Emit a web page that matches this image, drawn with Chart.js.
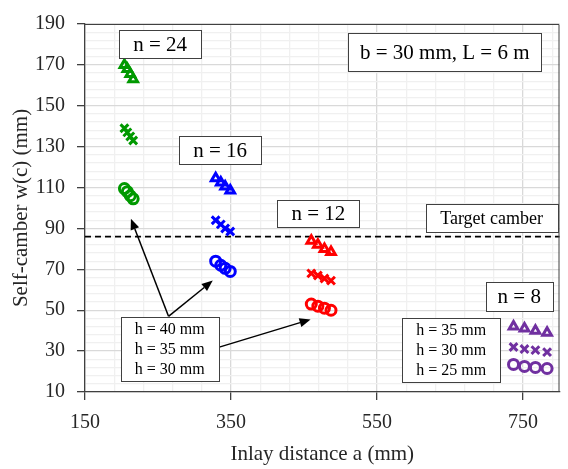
<!DOCTYPE html>
<html>
<head>
<meta charset="utf-8">
<script src="https://cdn.jsdelivr.net/npm/chart.js@4.4.1/dist/chart.umd.min.js"></script>
<style>
  body { margin: 0; background: #fff; }
  canvas { display: block; }
</style>
</head>
<body>
<canvas id="chart" width="568" height="469"></canvas>
<script>
// Inlay distance a (mm) for each number of inlays n
const inlay24 = [204, 208, 212, 216];
const inlay16 = [329, 336, 342, 349];
const inlay12 = [460, 469, 478, 487];
const inlay8 = [737, 752, 767, 783];

// Self-camber w(c) (mm), one array per lamella height h
const tri24 = [170, 168, 165.5, 163];
const cross24 = [139, 137, 135, 133];
const circ24 = [109.5, 108, 106, 104.5];

const tri16 = [114.5, 112.5, 110.5, 108.5];
const cross16 = [94, 92, 90, 88.5];
const circ16 = [74, 72, 70.5, 69];

const tri12 = [84, 82, 80, 78.5];
const cross12 = [68, 67, 65.5, 64.5];
const circ12 = [53, 52, 51, 50];

const tri8 = [42, 41, 40, 39];
const cross8 = [32, 31, 30.5, 29.5];
const circ8 = [23.5, 22.5, 22, 21.5];

const targetCamber = 86;

// axis ticks
const xLabels = [150, 350, 550, 750];
const yLabels = [10, 30, 50, 70, 90, 110, 130, 150, 170, 190];
const xGrid = [];
for (let v = 150; v <= 790; v += 40) xGrid.push(v);
const yGrid = [];
for (let v = 10; v <= 190; v += 4) yGrid.push(v);

const serif = "'Liberation Serif', 'DejaVu Serif', serif";
const green = '#009900', blue = '#0000ff', red = '#ff0000', purple = '#7030a0';

function series(xs, ys, color, style) {
    return {
        data: xs.map((x, i) => ({ x: x, y: ys[i] })),
        showLine: false,
        pointStyle: style,
        pointRadius: style === 'crossRot' ? 5.5 : 5,
        borderColor: color,
        backgroundColor: 'rgba(255,255,255,0)',
        borderWidth: 3
    };
}

const datasets = [
    series(inlay24, tri24, green, 'triangle'),
    series(inlay24, cross24, green, 'crossRot'),
    series(inlay24, circ24, green, 'circle'),
    series(inlay16, tri16, blue, 'triangle'),
    series(inlay16, cross16, blue, 'crossRot'),
    series(inlay16, circ16, blue, 'circle'),
    series(inlay12, tri12, red, 'triangle'),
    series(inlay12, cross12, red, 'crossRot'),
    series(inlay12, circ12, red, 'circle'),
    series(inlay8, tri8, purple, 'triangle'),
    series(inlay8, cross8, purple, 'crossRot'),
    series(inlay8, circ8, purple, 'circle')
];

// text boxes: centre in axis units, size in px
const boxes = [
    { lines: ['n = 24'], x: 253, y: 180.1, w: 82, h: 28, size: 21 },
    { lines: ['n = 16'], x: 335, y: 128.3, w: 82, h: 28, size: 21 },
    { lines: ['n = 12'], x: 469.7, y: 97.1, w: 82, h: 27, size: 21 },
    { lines: ['n = 8'], x: 744.9, y: 56.8, w: 67, h: 29, size: 21 },
    { lines: ['b = 30 mm, L = 6 m'], x: 642.8, y: 176.1, w: 193, h: 38, size: 21 },
    { lines: ['Target camber'], x: 707, y: 95.2, w: 132, h: 28, size: 18 },
    { lines: ['h = 40 mm', 'h = 35 mm', 'h = 30 mm'], x: 266, y: 30.9, w: 98, h: 64, size: 16 },
    { lines: ['h = 35 mm', 'h = 30 mm', 'h = 25 mm'], x: 651.7, y: 30.6, w: 98, h: 64, size: 16 }
];

// arrows from the left text box to the lowest group of each n
const arrows = [
    { from: [264.4, 47.0], to: [212.9, 94.8] },
    { from: [264.4, 47.0], to: [325, 64.5] },
    { from: [331.7, 31.7], to: [459, 45.5] }
];

const notes = {
    id: 'notes',
    beforeDatasetsDraw(chart) {
        const { ctx, chartArea, scales } = chart;
        const y = scales.y.getPixelForValue(targetCamber);
        ctx.save();
        ctx.strokeStyle = '#000';
        ctx.lineWidth = 1.6;
        ctx.setLineDash([6, 4]);
        ctx.beginPath();
        ctx.moveTo(chartArea.left, y);
        ctx.lineTo(chartArea.right, y);
        ctx.stroke();
        ctx.restore();
    },
    afterDatasetsDraw(chart) {
        const { ctx, chartArea, scales } = chart;
        ctx.save();

        // frame top and right
        ctx.strokeStyle = '#404040';
        ctx.lineWidth = 1;
        ctx.beginPath();
        ctx.moveTo(chartArea.left, chartArea.top + 0.5);
        ctx.lineTo(chartArea.right - 0.5, chartArea.top + 0.5);
        ctx.lineTo(chartArea.right - 0.5, chartArea.bottom);
        ctx.stroke();

        // arrows
        arrows.forEach(a => {
            const x1 = scales.x.getPixelForValue(a.from[0]);
            const y1 = scales.y.getPixelForValue(a.from[1]);
            const x2 = scales.x.getPixelForValue(a.to[0]);
            const y2 = scales.y.getPixelForValue(a.to[1]);
            const ang = Math.atan2(y2 - y1, x2 - x1);
            const len = 11, half = 4.5;
            const bx = x2 - len * Math.cos(ang), by = y2 - len * Math.sin(ang);
            ctx.strokeStyle = '#000';
            ctx.fillStyle = '#000';
            ctx.lineWidth = 1.5;
            ctx.beginPath();
            ctx.moveTo(x1, y1);
            ctx.lineTo(bx, by);
            ctx.stroke();
            ctx.beginPath();
            ctx.moveTo(x2, y2);
            ctx.lineTo(bx + half * Math.sin(ang), by - half * Math.cos(ang));
            ctx.lineTo(bx - half * Math.sin(ang), by + half * Math.cos(ang));
            ctx.closePath();
            ctx.fill();
        });

        // text boxes
        boxes.forEach(b => {
            const cx = scales.x.getPixelForValue(b.x);
            const cy = scales.y.getPixelForValue(b.y);
            const left = Math.round(cx - b.w / 2) + 0.5;
            const top = Math.round(cy - b.h / 2) + 0.5;
            ctx.fillStyle = '#fff';
            ctx.fillRect(left, top, b.w, b.h);
            ctx.strokeStyle = '#404040';
            ctx.lineWidth = 1;
            ctx.strokeRect(left, top, b.w, b.h);
            ctx.fillStyle = '#000';
            ctx.font = b.size + 'px ' + serif;
            ctx.textAlign = 'center';
            ctx.textBaseline = 'middle';
            const step = 20;
            const first = cy - (b.lines.length - 1) * step / 2;
            b.lines.forEach((t, i) => ctx.fillText(t, cx, first + i * step + 1));
        });
        ctx.restore();
    }
};

const ctx = document.getElementById('chart').getContext('2d');
new Chart(ctx, {
    type: 'scatter',
    data: { datasets: datasets },
    options: {
        responsive: false,
        animation: false,
        layout: { padding: { top: 16, right: 1, left: 0, bottom: 0 } },
        plugins: {
            legend: { display: false },
            tooltip: { enabled: false }
        },
        scales: {
            x: {
                type: 'linear',
                min: 150,
                max: 800,
                afterBuildTicks: s => { s.ticks = xGrid.map(v => ({ value: v })); },
                afterFit: s => { s.height = 77; },
                grid: {
                    color: c => xLabels.includes(c.tick && c.tick.value) ? '#d9d9d9' : '#f0f0f0',
                    tickColor: c => xLabels.includes(c.tick && c.tick.value) ? '#404040' : 'rgba(0,0,0,0)',
                    tickLength: 8,
                    lineWidth: 1.3
                },
                border: { color: '#404040', width: 1.3 },
                ticks: {
                    autoSkip: false,
                    maxRotation: 0,
                    padding: 11,
                    color: '#262626',
                    font: { family: serif, size: 20 },
                    callback: v => xLabels.includes(v) ? String(v) : ''
                },
                title: {
                    display: true,
                    text: 'Inlay distance a (mm)',
                    color: '#262626',
                    font: { family: serif, size: 21 },
                    padding: { top: 0, bottom: 2 }
                }
            },
            y: {
                type: 'linear',
                min: 10,
                max: 190,
                afterBuildTicks: s => { s.ticks = yGrid.map(v => ({ value: v })); },
                afterFit: s => { s.width = 85; },
                grid: {
                    color: c => yLabels.includes(c.tick && c.tick.value) ? '#d9d9d9' : '#f0f0f0',
                    tickColor: c => yLabels.includes(c.tick && c.tick.value) ? '#404040' : 'rgba(0,0,0,0)',
                    tickLength: 8,
                    lineWidth: 1.3
                },
                border: { color: '#404040', width: 1.3 },
                ticks: {
                    autoSkip: false,
                    padding: 12,
                    color: '#262626',
                    font: { family: serif, size: 20 },
                    callback: v => yLabels.includes(v) ? String(v) : ''
                },
                title: {
                    display: true,
                    text: 'Self-camber w(c) (mm)',
                    color: '#262626',
                    font: { family: serif, size: 21 },
                    padding: { top: 9, bottom: 0 }
                }
            }
        }
    },
    plugins: [notes]
});
</script>
</body>
</html>
